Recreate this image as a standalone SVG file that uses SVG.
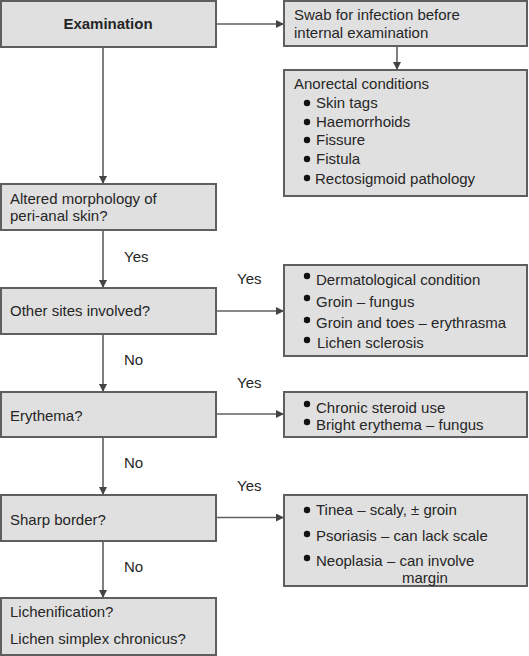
<svg xmlns="http://www.w3.org/2000/svg" width="529" height="656" viewBox="0 0 529 656">
<defs>
<marker id="ah" viewBox="0 0 10 10" refX="10" refY="5" markerWidth="8" markerHeight="8" markerUnits="userSpaceOnUse" orient="auto">
<path d="M0,0 L10,5 L0,10 Z" fill="#444"/>
</marker>
</defs>
<style>
.box{fill:#e0e0e0;stroke:#5f5f5f;stroke-width:2}
.t{font-family:"Liberation Sans",Arial,sans-serif;font-size:15px;fill:#262626}
.b{font-weight:bold}
.c{stroke:#5f5f5f;stroke-width:1.6;fill:none;marker-end:url(#ah)}
.dot{fill:#111}
</style>
<rect width="529" height="656" fill="#ffffff"/>
<g id="connectors">
<path class="c" d="M216,24 H284"/>
<path class="c" d="M397,46 V70"/>
<path class="c" d="M103,47 V184"/>
<path class="c" d="M103,230 V288"/>
<path class="c" d="M103,334 V392"/>
<path class="c" d="M103,437 V495"/>
<path class="c" d="M103,541 V598"/>
<path class="c" d="M216,311 H284"/>
<path class="c" d="M216,414 H284"/>
<path class="c" d="M216,517.5 H284"/>
<text class="t" x="124" y="262">Yes</text>
<text class="t" x="237" y="284">Yes</text>
<text class="t" x="124" y="365">No</text>
<text class="t" x="237" y="388">Yes</text>
<text class="t" x="124" y="468">No</text>
<text class="t" x="237" y="491">Yes</text>
<text class="t" x="124" y="572">No</text>
</g>
<g id="examination">
<rect class="box" x="1" y="1" width="215" height="46"/>
<text class="t b" x="108" y="29" text-anchor="middle">Examination</text>
</g>
<g id="swab">
<rect class="box" x="284" y="1" width="243" height="45"/>
<text class="t" x="294" y="20">Swab for infection before</text>
<text class="t" x="294" y="38">internal examination</text>
</g>
<g id="anorectal">
<rect class="box" x="284" y="70" width="243" height="126"/>
<text class="t" x="294" y="89">Anorectal conditions</text>
<circle class="dot" cx="307" cy="103" r="3.2"/>
<text class="t" x="316" y="108">Skin tags</text>
<circle class="dot" cx="307" cy="122" r="3.2"/>
<text class="t" x="316" y="127">Haemorrhoids</text>
<circle class="dot" cx="307" cy="140" r="3.2"/>
<text class="t" x="316" y="145">Fissure</text>
<circle class="dot" cx="307" cy="159" r="3.2"/>
<text class="t" x="316" y="164">Fistula</text>
<circle class="dot" cx="307" cy="178" r="3.2"/>
<text class="t" x="315" y="184">Rectosigmoid pathology</text>
</g>
<g id="altered">
<rect class="box" x="1" y="184" width="215" height="46"/>
<text class="t" x="10" y="204">Altered morphology of</text>
<text class="t" x="10" y="221">peri-anal skin?</text>
</g>
<g id="other">
<rect class="box" x="1" y="288" width="215" height="46"/>
<text class="t" x="10" y="316">Other sites involved?</text>
</g>
<g id="dermatological">
<rect class="box" x="284" y="265" width="243" height="91"/>
<circle class="dot" cx="307" cy="276" r="3.2"/>
<text class="t" x="316" y="285">Dermatological condition</text>
<circle class="dot" cx="307" cy="298" r="3.2"/>
<text class="t" x="316" y="307">Groin – fungus</text>
<circle class="dot" cx="307" cy="320" r="3.2"/>
<text class="t" x="316" y="328">Groin and toes – erythrasma</text>
<circle class="dot" cx="307" cy="340" r="3.2"/>
<text class="t" x="317" y="348">Lichen sclerosis</text>
</g>
<g id="erythema">
<rect class="box" x="1" y="392" width="215" height="45"/>
<text class="t" x="10" y="421">Erythema?</text>
</g>
<g id="chronic">
<rect class="box" x="284" y="392" width="243" height="45"/>
<circle class="dot" cx="307" cy="404" r="3.2"/>
<text class="t" x="316" y="413">Chronic steroid use</text>
<circle class="dot" cx="307" cy="422" r="3.2"/>
<text class="t" x="316" y="430">Bright erythema – fungus</text>
</g>
<g id="sharp">
<rect class="box" x="1" y="495" width="215" height="46"/>
<text class="t" x="10" y="525">Sharp border?</text>
</g>
<g id="tinea">
<rect class="box" x="284" y="495" width="243" height="91"/>
<circle class="dot" cx="307" cy="510" r="3.2"/>
<text class="t" x="316" y="515">Tinea – scaly, ± groin</text>
<circle class="dot" cx="307" cy="534" r="3.2"/>
<text class="t" x="316" y="541">Psoriasis – can lack scale</text>
<circle class="dot" cx="307" cy="558" r="3.2"/>
<text class="t" x="316" y="566">Neoplasia – can involve</text>
<text class="t" x="402" y="582.5">margin</text>
</g>
<g id="lichenification">
<rect class="box" x="1" y="598" width="215" height="57"/>
<text class="t" x="10" y="617">Lichenification?</text>
<text class="t" x="10" y="644">Lichen simplex chronicus?</text>
</g>
</svg>
